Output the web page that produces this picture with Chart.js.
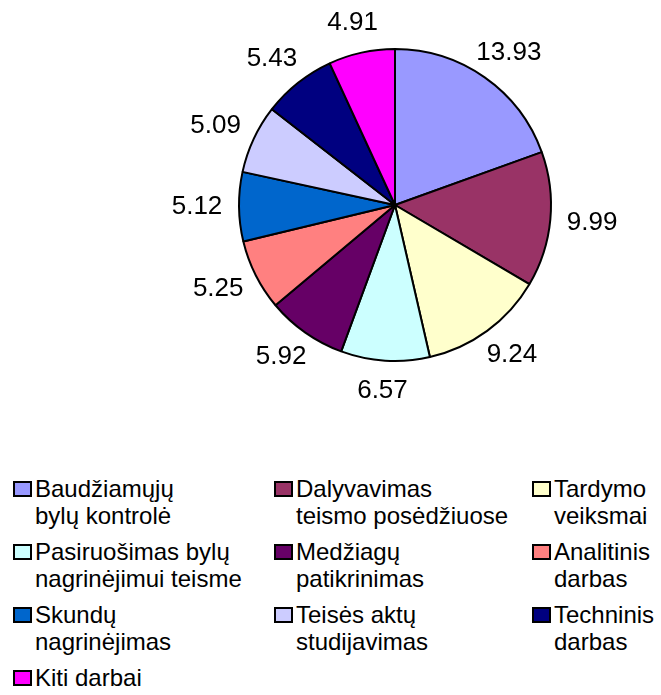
<!DOCTYPE html>
<html>
<head>
<meta charset="utf-8">
<script src="https://cdn.jsdelivr.net/npm/chart.js@4/dist/chart.umd.min.js"></script>
<style>
  html, body { margin: 0; padding: 0; background: #fff; }
  #wrap { position: relative; width: 661px; height: 695px; overflow: hidden; }
  #pie { position: absolute; left: 0; top: 0; }
  #legend {
    position: absolute; left: 13px; top: 475px;
    display: grid; grid-template-columns: 261px 258px 130px;
    row-gap: 9px;
    font-family: "Liberation Sans", Arial, sans-serif; font-size: 24px; line-height: 27px; color: #000;
  }
  .item { display: flex; align-items: flex-start; }
  .box { width: 15px; height: 12px; border: 2px solid #000; margin-top: 6px; margin-right: 3px; flex: none; }
</style>
</head>
<body>
<div id="wrap">
  <canvas id="pie" width="661" height="440"></canvas>
  <div id="legend"></div>
</div>
<script>
// data
const categories = [
    ["Baudžiamųjų", "bylų kontrolė"],
    ["Dalyvavimas", "teismo posėdžiuose"],
    ["Tardymo", "veiksmai"],
    ["Pasiruošimas bylų", "nagrinėjimui teisme"],
    ["Medžiagų", "patikrinimas"],
    ["Analitinis", "darbas"],
    ["Skundų", "nagrinėjimas"],
    ["Teisės aktų", "studijavimas"],
    ["Techninis", "darbas"],
    ["Kiti darbai"]
];
const values = [13.93, 9.99, 9.24, 6.57, 5.92, 5.25, 5.12, 5.09, 5.43, 4.91];
const colors = ["#9999FF", "#993366", "#FFFFCC", "#CCFFFF", "#660066",
                "#FF8080", "#0066CC", "#CCCCFF", "#000080", "#FF00FF"];

// value labels outside each slice
const outsideLabels = {
    id: "outsideLabels",
    afterDatasetsDraw(chart) {
        const ctx = chart.ctx;
        const meta = chart.getDatasetMeta(0);
        ctx.save();
        ctx.font = "26px 'Liberation Sans', Arial, sans-serif";
        ctx.fillStyle = "#000";
        ctx.textAlign = "center";
        ctx.textBaseline = "middle";
        meta.data.forEach((arc, i) => {
            const mid = (arc.startAngle + arc.endAngle) / 2;
            const dx = Math.cos(mid) * (arc.outerRadius + 42);
            const dy = Math.sin(mid) * (arc.outerRadius + 30);
            ctx.fillText(values[i].toFixed(2), arc.x + dx, arc.y + dy);
        });
        ctx.restore();
    }
};

new Chart(document.getElementById("pie").getContext("2d"), {
    type: "pie",
    data: {
        labels: categories.map(c => c.join(" ")),
        datasets: [{
            data: values,
            backgroundColor: colors,
            borderColor: "#000",
            borderWidth: 2,
            hoverOffset: 0
        }]
    },
    options: {
        responsive: false,
        animation: false,
        layout: { padding: { top: 48, bottom: 78, left: 200, right: 71 } },
        plugins: {
            legend: { display: false },
            tooltip: { enabled: false }
        }
    },
    plugins: [outsideLabels]
});

// legend in a 3-column grid, lines broken like the original
const legend = document.getElementById("legend");
categories.forEach((lines, i) => {
    const item = document.createElement("div");
    item.className = "item";
    const box = document.createElement("span");
    box.className = "box";
    box.style.background = colors[i];
    const txt = document.createElement("span");
    txt.innerHTML = lines.join("<br>");
    item.appendChild(box);
    item.appendChild(txt);
    legend.appendChild(item);
});
</script>
</body>
</html>
